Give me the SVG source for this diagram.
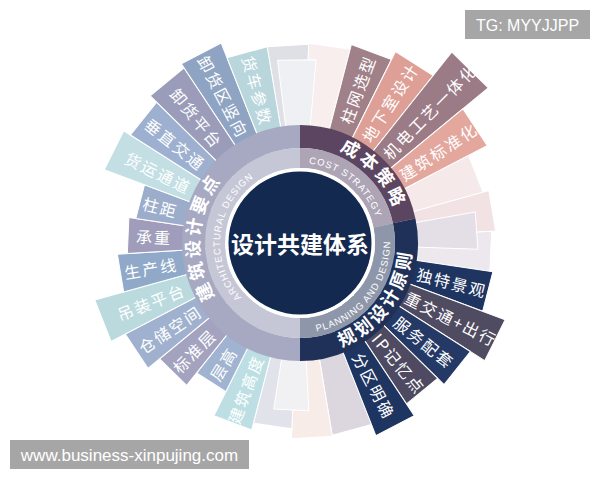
<svg xmlns="http://www.w3.org/2000/svg" width="600" height="480" viewBox="0 0 600 480">
<defs>
<style>
.bar polygon{stroke:#fff;stroke-width:1;stroke-linejoin:round}
.bt{font-family:"Noto Sans CJK SC","Noto Sans",sans-serif;font-size:16px;fill:#fff;letter-spacing:2px;text-anchor:middle;dominant-baseline:central}
.rt{font-family:"Noto Sans CJK SC","Noto Sans",sans-serif;font-size:18px;font-weight:bold;fill:#fff;letter-spacing:3px;text-anchor:middle}
.et{font-family:"Liberation Sans","DejaVu Sans",sans-serif;font-size:9.5px;fill:#fff;letter-spacing:0.9px;text-anchor:middle}
.wm{font-family:"Liberation Sans","DejaVu Sans",sans-serif;fill:#fff;text-anchor:middle}
</style>
<path id="pCost" d="M277.39,145.08 A100.5,100.5 0 0 1 396.11,272.39"/>
<path id="pCostE" d="M258.8,174.42 A80,80 0 0 1 375.64,269.05"/>
<path id="pPlan" d="M288.29,354.38 A112,112 0 0 0 402.31,197.45"/>
<path id="pPlanE" d="M270.7,328.1 A90,90 0 0 0 377.15,196.65"/>
<path id="pArch" d="M244.53,326.81 A100.5,100.5 0 0 1 255.16,153.06"/>
<path id="pArchE" d="M277.95,319.9 A80,80 0 0 1 294.42,163.19"/>
</defs>
<rect width="600" height="480" fill="#fff"/>

<g id="bars" transform="translate(300,243)">
  <g id="faint" class="bar">
    <polygon transform="rotate(8.5)" points="0,0 -20.9,-198.9 20.9,-198.9" fill="#f8eeee"/>
    <polygon transform="rotate(356.5)" points="0,0 -20.8,-197.9 20.8,-197.9" fill="#dfe0e6"/>
    <polygon transform="rotate(359)" points="0,0 -19.23,-182.99 19.23,-182.99" fill="#eff0f3"/>
    <polygon transform="rotate(68.5)" points="0,0 -19.86,-188.96 19.86,-188.96" fill="#f6e9e9"/>
    <polygon transform="rotate(80.5)" points="0,0 -20.48,-194.92 20.48,-194.92" fill="#f2e2e4"/>
    <polygon transform="rotate(92.5)" points="0,0 -20.06,-190.94 20.06,-190.94" fill="#ece8ee"/>
    <polygon transform="rotate(86)" points="0,0 -18.6,-177.02 18.6,-177.02" fill="#e4dee6"/>
    <polygon transform="rotate(164.5)" points="0,0 -20.38,-193.93 20.38,-193.93" fill="#dcd7df"/>
    <polygon transform="rotate(176.5)" points="0,0 -20.48,-194.92 20.48,-194.92" fill="#f8ece8"/>
    <polygon transform="rotate(188.5)" points="0,0 -19.44,-184.98 19.44,-184.98" fill="#e2e3ea"/>
    <polygon transform="rotate(183)" points="0,0 -17.56,-167.08 17.56,-167.08" fill="#f1f1f4"/>
  </g>

  <g id="n-zhuwang" class="bar" transform="rotate(20.5)"><polygon points="0,0 -21.42,-203.87 21.42,-203.87" fill="#a08089"/><text class="bt" transform="rotate(-90)" x="164" y="0">柱网选型</text></g>
  <g id="n-dixiashi" class="bar" transform="rotate(32.5)"><polygon points="0,0 -22.36,-212.82 22.36,-212.82" fill="#dea096"/><text class="bt" transform="rotate(-90)" x="167" y="0">地下室设计</text></g>
  <g id="n-jidian" class="bar" transform="rotate(44.5)"><polygon points="0,0 -25.5,-242.66 25.5,-242.66" fill="#9b7b86"/><text class="bt" transform="rotate(-90)" x="185" y="0">机电工艺一体化</text></g>
  <g id="n-biaozhunhua" class="bar" transform="rotate(56.5)"><polygon points="0,0 -22.05,-209.84 22.05,-209.84" fill="#e3a79e"/><text class="bt" transform="rotate(-90)" x="166" y="0">建筑标准化</text></g>

  <g id="n-jingguan" class="bar" transform="rotate(104.5)"><polygon points="0,0 -20.38,-193.93 20.38,-193.93" fill="#1f3561"/><text class="bt" transform="rotate(-90)" x="157" y="0">独特景观</text></g>
  <g id="n-jiaotong" class="bar" transform="rotate(116.5)"><polygon points="0,0 -22.89,-217.8 22.89,-217.8" fill="#4f4b61"/><text class="bt" transform="rotate(-90)" x="169" y="0">重交通+出行</text></g>
  <g id="n-fuwu" class="bar" transform="rotate(128.5)"><polygon points="0,0 -21.11,-200.89 21.11,-200.89" fill="#243965"/><text class="bt" transform="rotate(-90)" x="159" y="0">服务配套</text></g>
  <g id="n-ip" class="bar" transform="rotate(140.5)"><polygon points="0,0 -20.17,-191.94 20.17,-191.94" fill="#4e4a62"/><text class="bt" transform="rotate(-90)" x="156" y="0">IP记忆点</text></g>
  <g id="n-fenqu" class="bar" transform="rotate(152.5)"><polygon points="0,0 -21.63,-205.86 21.63,-205.86" fill="#1f3561"/><text class="bt" transform="rotate(-90)" x="161" y="0">分区明确</text></g>

  <g id="n-gaodu" class="bar" transform="rotate(200.5)"><polygon points="0,0 -20.17,-191.94 20.17,-191.94" fill="#bddfe3"/><text class="bt" transform="rotate(90)" x="-156" y="0">建筑高度</text></g>
  <g id="n-cenggao" class="bar" transform="rotate(212.5)"><polygon points="0,0 -17.35,-165.09 17.35,-165.09" fill="#a0b3d0"/><text class="bt" transform="rotate(90)" x="-143" y="0">层高</text></g>
  <g id="n-biaozhunceng" class="bar" transform="rotate(224.5)"><polygon points="0,0 -19.02,-181 19.02,-181" fill="#a3a3bf"/><text class="bt" transform="rotate(90)" x="-151" y="0">标准层</text></g>
  <g id="n-cangchu" class="bar" transform="rotate(236.5)"><polygon points="0,0 -20.59,-195.92 20.59,-195.92" fill="#9fb1ce"/><text class="bt" transform="rotate(90)" x="-156" y="0">仓储空间</text></g>
  <g id="n-diaozhuang" class="bar" transform="rotate(248.5)"><polygon points="0,0 -22.26,-211.83 22.26,-211.83" fill="#badade"/><text class="bt" transform="rotate(90)" x="-160" y="0">吊装平台</text></g>
  <g id="n-shengchan" class="bar" transform="rotate(260.5)"><polygon points="0,0 -19.12,-182 19.12,-182" fill="#91a9c9"/><text class="bt" transform="rotate(90)" x="-151" y="0">生产线</text></g>
  <g id="n-chengzhong" class="bar" transform="rotate(272.5)"><polygon points="0,0 -18.08,-172.05 18.08,-172.05" fill="#9f9dbb"/><text class="bt" transform="rotate(90)" x="-146" y="0">承重</text></g>
  <g id="n-zhuju" class="bar" transform="rotate(284.5)"><polygon points="0,0 -17.35,-165.09 17.35,-165.09" fill="#9badcb"/><text class="bt" transform="rotate(90)" x="-144" y="0">柱距</text></g>
  <g id="n-huoyun" class="bar" transform="rotate(296.5)"><polygon points="0,0 -21.84,-207.85 21.84,-207.85" fill="#c3dfe4"/><text class="bt" transform="rotate(90)" x="-158" y="0">货运通道</text></g>
  <g id="n-chuizhi" class="bar" transform="rotate(308.5)"><polygon points="0,0 -21,-199.89 21,-199.89" fill="#9db0cf"/><text class="bt" transform="rotate(90)" x="-159" y="0">垂直交通</text></g>
  <g id="n-xiehuopt" class="bar" transform="rotate(320.5)"><polygon points="0,0 -21.95,-208.85 21.95,-208.85" fill="#9a9cb9"/><text class="bt" transform="rotate(90)" x="-162" y="0">卸货平台</text></g>
  <g id="n-xiehuoqu" class="bar" transform="rotate(332.5)"><polygon points="0,0 -22.47,-213.82 22.47,-213.82" fill="#8fa4c2"/><text class="bt" transform="rotate(90)" x="-165" y="0">卸货区竖向</text></g>
  <g id="n-huoche" class="bar" transform="rotate(344.5)"><polygon points="0,0 -20.8,-197.91 20.8,-197.91" fill="#b8d6dc"/><text class="bt" transform="rotate(90)" x="-158" y="0">货车参数</text></g>
</g>

<g id="rings" fill="none">
  <path d="M300,136.5 A106.5,106.5 0 0 1 404.17,220.86" stroke="#5b4560" stroke-width="23"/>
  <path d="M404.17,220.86 A106.5,106.5 0 0 1 300,349.5" stroke="#1f3159" stroke-width="23"/>
  <path d="M300,349.5 A106.5,106.5 0 0 1 300,136.5" stroke="#a7a8c1" stroke-width="23"/>
  <path d="M300,158 A85,85 0 0 1 383.14,225.33" stroke="#ada4b5" stroke-width="20"/>
  <path d="M383.14,225.33 A85,85 0 0 1 300,328" stroke="#8e96aa" stroke-width="20"/>
  <path d="M300,328 A85,85 0 0 1 300,158" stroke="#c6c7d6" stroke-width="20"/>
  <circle cx="300" cy="243" r="73" stroke="#ffffff" stroke-width="4"/>
</g>

<g id="center">
  <circle cx="300" cy="243" r="71.5" fill="#14294f"/>
  <text x="300" y="243" font-family="'Noto Sans CJK SC','Noto Sans',sans-serif" font-size="23" font-weight="bold" fill="#fff" text-anchor="middle" dominant-baseline="central">设计共建体系</text>
</g>

<g id="cost">
  <text class="rt"><textPath href="#pCost" startOffset="50%">成本策略</textPath></text>
  <text class="et"><textPath href="#pCostE" startOffset="50%">COST STRATEGY</textPath></text>
</g>
<g id="planning">
  <text class="rt"><textPath href="#pPlan" startOffset="50%">规划设计原则</textPath></text>
  <text class="et"><textPath href="#pPlanE" startOffset="50%">PLANNING AND DESIGN</textPath></text>
</g>
<g id="architecture">
  <text class="rt"><textPath href="#pArch" startOffset="50%">建筑设计要点</textPath></text>
  <text class="et"><textPath href="#pArchE" startOffset="50%">ARCHITECTURAL DESIGN</textPath></text>
</g>

<g id="wm-tg">
  <rect x="465" y="10" width="125" height="29" fill="#a6a6a6"/>
  <text class="wm" x="527.5" y="30.5" font-size="16">TG: MYYJJPP</text>
</g>
<g id="wm-url">
  <rect x="10" y="440" width="239" height="29" fill="#a6a6a6"/>
  <text class="wm" x="129.5" y="460.5" font-size="17">www.business-xinpujing.com</text>
</g>
</svg>
